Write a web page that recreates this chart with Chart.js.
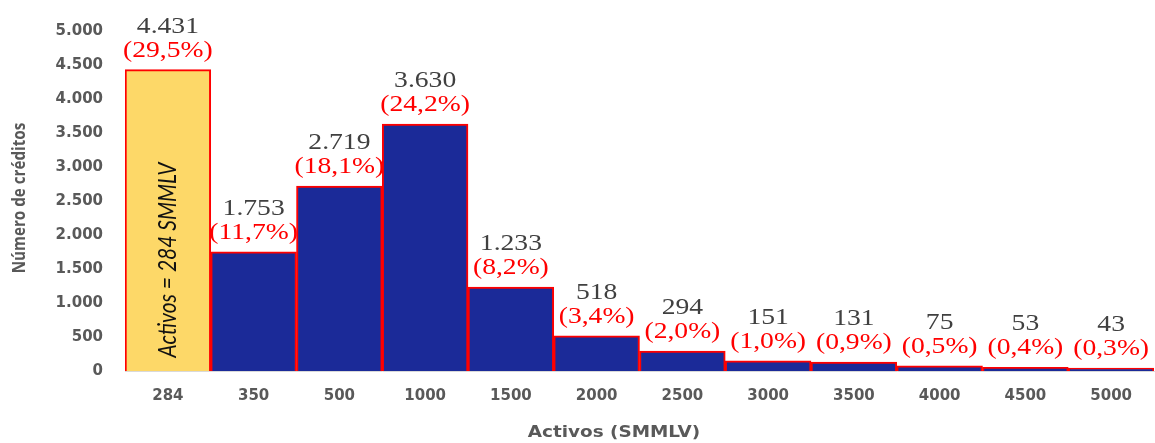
<!DOCTYPE html>
<html>
<head>
<meta charset="utf-8">
<script src="https://cdn.jsdelivr.net/npm/chart.js@4"></script>
<style>
  body { margin: 0; background: #fff; }
  #wrap { width: 1155px; height: 443px; }
</style>
</head>
<body>
<div id="wrap"><canvas id="myChart"></canvas></div>
<script>
const categories = ['284', '350', '500', '1000', '1500', '2000', '2500', '3000', '3500', '4000', '4500', '5000'];
const creditCounts = [4431, 1753, 2719, 3630, 1233, 518, 294, 151, 131, 75, 53, 43];
const creditShares = ['29,5', '11,7', '18,1', '24,2', '8,2', '3,4', '2,0', '1,0', '0,9', '0,5', '0,4', '0,3'];
const yTicks = [0, 500, 1000, 1500, 2000, 2500, 3000, 3500, 4000, 4500, 5000];

function withDots(n) {
  return String(n).replace(/\B(?=(\d{3})+(?!\d))/g, '.');
}

function stretchedText(ctx, text, x, y, sx) {
  ctx.save();
  ctx.translate(x, y);
  ctx.scale(sx, 1);
  ctx.fillText(text, 0, 0);
  ctx.restore();
}

const barLabels = {
  id: 'barLabels',
  afterDatasetsDraw(chart) {
    const ctx = chart.ctx;
    const bars = chart.getDatasetMeta(0).data;
    ctx.save();
    ctx.textAlign = 'center';
    ctx.textBaseline = 'alphabetic';
    ctx.font = '24px "Liberation Serif"';
    bars.forEach((bar, i) => {
      ctx.fillStyle = '#ff0000';
      stretchedText(ctx, '(' + creditShares[i] + '%)', bar.x, bar.y - 13, 1.15);
      ctx.fillStyle = '#404040';
      stretchedText(ctx, withDots(creditCounts[i]), bar.x, bar.y - 37, 1.15);
    });

    // note inside the first bar
    const first = bars[0];
    const note = 'Activos = 284 SMMLV';
    ctx.font = 'italic 22px Lato';
    const w = ctx.measureText(note).width;
    ctx.fillStyle = '#111111';
    ctx.translate(first.x, 260);
    ctx.rotate(-Math.PI / 2);
    ctx.scale(195 / w, 1.15);
    ctx.textBaseline = 'middle';
    ctx.fillText(note, 0, 0);
    ctx.restore();

    // axis titles
    ctx.save();
    ctx.fillStyle = '#595959';
    ctx.textAlign = 'center';
    ctx.font = 'bold 16px "DejaVu Sans"';
    stretchedText(ctx, 'Activos (SMMLV)', 614, 437, 1.15);
    ctx.font = 'bold 16px "Open Sans"';
    ctx.translate(20, 198);
    ctx.rotate(-Math.PI / 2);
    ctx.scale(0.95, 1.15);
    ctx.textBaseline = 'middle';
    ctx.fillText('Número de créditos', 0, 0);
    ctx.restore();
  }
};

const barColors = categories.map((c, i) => i === 0 ? '#fdd868' : '#1b2a98');

new Chart(document.getElementById('myChart'), {
  type: 'bar',
  data: {
    labels: categories,
    datasets: [{
      label: 'Número de créditos',
      data: creditCounts,
      backgroundColor: barColors,
      borderColor: '#ff0000',
      borderWidth: 2,
      barPercentage: 1,
      categoryPercentage: 1
    }]
  },
  options: {
    responsive: true,
    maintainAspectRatio: false,
    animation: false,
    layout: { padding: { top: 24, right: 1, left: 0, bottom: 0 } },
    plugins: {
      legend: { display: false },
      tooltip: { enabled: false }
    },
    scales: {
      x: {
        afterFit(scale) { scale.height = 72; },
        grid: { display: false, drawTicks: false },
        border: { display: true, color: '#d9d9d9', width: 1 },
        ticks: {
          padding: 16,
          color: '#595959',
          font: { family: 'DejaVu Sans', size: 15, weight: 'bold' }
        }
      },
      y: {
        min: 0,
        max: 5000,
        afterFit(scale) { scale.width = 125; },
        afterBuildTicks(scale) { scale.ticks = yTicks.map(v => ({ value: v })); },
        grid: { display: false, drawTicks: false },
        border: { display: false },
        ticks: {
          padding: 22,
          color: '#595959',
          font: { family: 'DejaVu Sans', size: 15, weight: 'bold' },
          callback: v => withDots(v)
        }
      }
    }
  },
  plugins: [barLabels]
});
</script>
</body>
</html>
